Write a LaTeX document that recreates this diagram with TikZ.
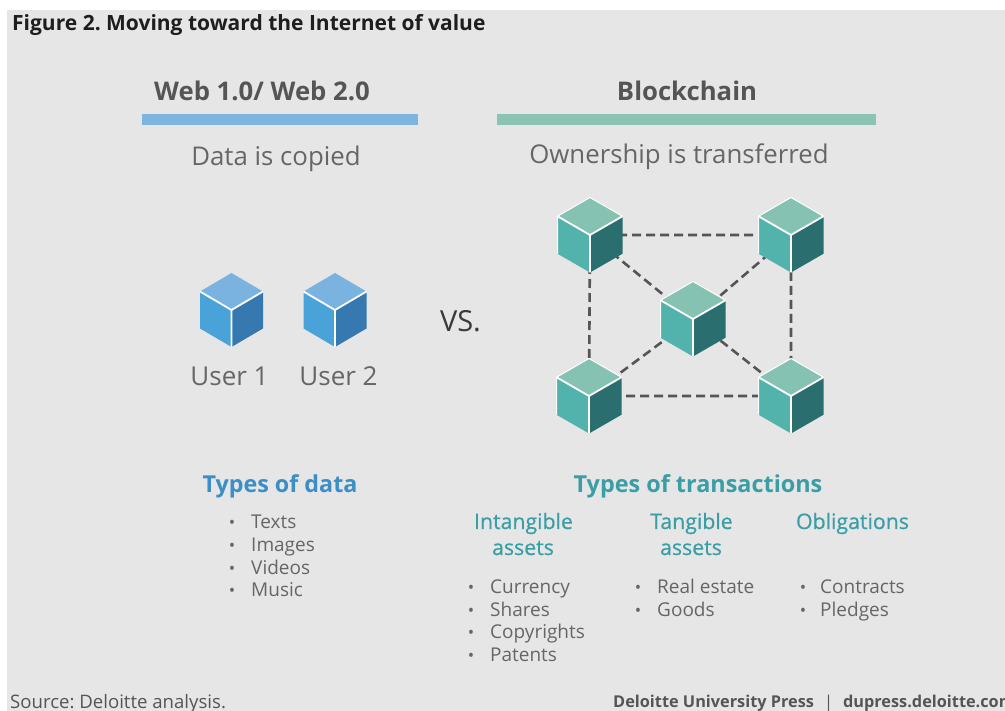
\documentclass[tikz,border=0pt]{standalone}
\usepackage{fontspec}
\setmainfont{Open Sans}
\newfontfamily\catfont{Open Sans}[FakeBold=0.6]
\frenchspacing
\definecolor{bg}{HTML}{E6E6E6}
\definecolor{titlec}{HTML}{1E1E1E}
\definecolor{headc}{HTML}{555555}
\definecolor{subc}{HTML}{666666}
\definecolor{vsc}{HTML}{3A3A3A}
\definecolor{bluec}{HTML}{3B8EC6}
\definecolor{tealc}{HTML}{3A9EA6}
\definecolor{bluebar}{HTML}{7DB4E0}
\definecolor{greenbar}{HTML}{8CC4B4}
\definecolor{btop}{HTML}{7AB3E0}
\definecolor{bleft}{HTML}{4AA3D8}
\definecolor{bright}{HTML}{3579B0}
\definecolor{ttop}{HTML}{86C2B2}
\definecolor{tleft}{HTML}{52B2AC}
\definecolor{tright}{HTML}{2B6E6F}
\definecolor{dashc}{HTML}{555555}
\tikzset{
  pics/bluecube/.style={code={
    \fill[btop] (0,-37) -- (31.5,-18.5) -- (0,0) -- (-31.5,-18.5) -- cycle;
    \fill[bleft] (-31.5,-18.5) -- (0,0) -- (0,37) -- (-31.5,18.5) -- cycle;
    \fill[bright] (0,0) -- (31.5,-18.5) -- (31.5,18.5) -- (0,37) -- cycle;
    \draw[white,line width=1.8pt] (-31.5,-18.5) -- (0,0) -- (31.5,-18.5) (0,0) -- (0,37);
  }},
  pics/tealcube/.style={code={
    \fill[ttop] (0,-37.5) -- (32.5,-18.75) -- (0,0) -- (-32.5,-18.75) -- cycle;
    \fill[tleft] (-32.5,-18.75) -- (0,0) -- (0,37.5) -- (-32.5,18.75) -- cycle;
    \fill[tright] (0,0) -- (32.5,-18.75) -- (32.5,18.75) -- (0,37.5) -- cycle;
    \draw[white,line width=1.8pt,line join=round] (-32.5,-18.75) -- (0,0) -- (32.5,-18.75) (0,0) -- (0,37.5);
    \draw[white,line width=1pt,line join=round] (-32.5,18.75) -- (-32.5,-18.75) -- (0,-37.5) -- (32.5,-18.75);
  }},
  dashline/.style={dashc,line width=2.6pt,dash pattern=on 9pt off 5pt},
  head/.style={anchor=base,font=\fontsize{25.7}{30}\selectfont\bfseries,text=headc,inner sep=0pt},
  sub/.style={anchor=base,font=\fontsize{25.8}{30}\selectfont,text=subc,inner sep=0pt},
  usr/.style={anchor=base,font=\fontsize{26}{30}\selectfont,text=subc,inner sep=0pt},
  typeb/.style={anchor=base,font=\fontsize{23.3}{28}\selectfont\bfseries,text=bluec,inner sep=0pt},
  typet/.style={anchor=base,font=\fontsize{23.4}{28}\selectfont\bfseries,text=tealc,inner sep=0pt},
  cat/.style={anchor=base,font=\fontsize{21.3}{25}\catfont,text=tealc,inner sep=0pt},
  item/.style={anchor=base west,font=\fontsize{19}{22}\selectfont,text=subc,inner sep=0pt},
  bul/.style={anchor=base,font=\fontsize{17}{20}\selectfont,text=subc,inner sep=0pt},
  foot/.style={anchor=base west,font=\fontsize{18.6}{22}\selectfont,text=headc,inner sep=0pt},
}
\begin{document}
\begin{tikzpicture}[x=1pt,y=-1pt]
\useasboundingbox (0,0) rectangle (1005,711);
\fill[white] (0,0) rectangle (1005,711);
\fill[bg] (7,10) rectangle (1005,711);
% title
\node[anchor=base west,font=\fontsize{21}{25}\selectfont\bfseries,text=titlec,inner sep=0pt] (title) at (12,31) {Figure 2. Moving toward the Internet of value};
% headers
\node[head] (web) at (262,101) {Web 1.0/ Web 2.0};
\node[head] (bc) at (687,101) {Blockchain};
\fill[bluebar] (142,114) rectangle (418,125);
\fill[greenbar] (497,114) rectangle (876,125);
\node[sub] (copied) at (276,166) {Data is copied};
\node[sub] (owner) at (679,164) {Ownership is transferred};
% user cubes
\coordinate (u1) at (231.5,310);
\coordinate (u2) at (335,310);
\pic at (u1) {bluecube};
\pic at (u2) {bluecube};
\node[usr] (user1) at (229.5,386) {User 1};
\node[usr] (user2) at (338.5,386) {User 2};
\node[anchor=base,font=\fontsize{29}{33}\selectfont,text=vsc,inner sep=0pt] (vs) at (460.5,332) {VS.};
% blockchain network
\coordinate (tl) at (590,235);
\coordinate (tr) at (791,235);
\coordinate (ce) at (693,319);
\coordinate (bl) at (589,396);
\coordinate (br) at (791,396);
\draw[dashline] (tl) -- (tr) -- (br) -- (bl) -- (tl);
\draw[dashline] (tl) -- (ce) -- (br);
\draw[dashline] (tr) -- (ce) -- (bl);
\pic at (tl) {tealcube};
\pic at (tr) {tealcube};
\pic at (ce) {tealcube};
\pic at (bl) {tealcube};
\pic at (br) {tealcube};
% types of data
\node[typeb] (tod) at (280,493) {Types of data};
\foreach \t [count=\i] in {Texts,Images,Videos,Music}{
  \node[bul] (db\i) at (232,506+22.7*\i) {•};
  \node[item] (dt\i) at (251,506+22.7*\i) {\t};
}
% types of transactions
\node[typet] (tot) at (698,493) {Types of transactions};
\node[cat] (int1) at (523.5,529) {Intangible};
\node[cat] (int2) at (523,555) {assets};
\node[cat] (tan1) at (691.5,529) {Tangible};
\node[cat] (tan2) at (691,555) {assets};
\node[cat] (obl) at (852.5,529) {Obligations};
\foreach \t [count=\i] in {Currency,Shares,Copyrights,Patents}{
  \node[bul] (ib\i) at (471,571+22.5*\i) {•};
  \node[item] (it\i) at (490,571+22.5*\i) {\t};
}
\foreach \t [count=\i] in {Real estate,Goods}{
  \node[bul] (tb\i) at (638,571+22.5*\i) {•};
  \node[item] (tt\i) at (657,571+22.5*\i) {\t};
}
\foreach \t [count=\i] in {Contracts,Pledges}{
  \node[bul] (ob\i) at (803,571+22.5*\i) {•};
  \node[item] (ot\i) at (820,571+22.5*\i) {\t};
}
% footer
\node[foot] (src) at (10,708.5) {Source: Deloitte analysis.};
\node[foot,font=\fontsize{16.3}{19}\selectfont\bfseries] (press) at (613,707) {Deloitte University Press\hspace{10pt}\textmd{|}\hspace{10pt}dupress.deloitte.com};
\end{tikzpicture}
\end{document}
